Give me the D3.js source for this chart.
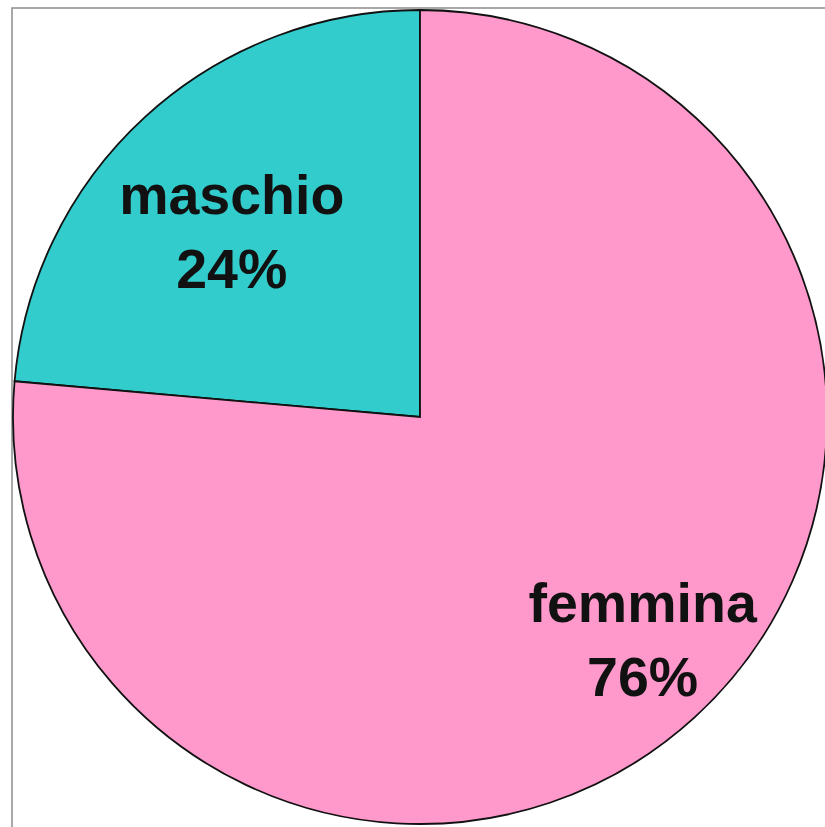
<!DOCTYPE html>
<html><head><meta charset="utf-8">
<script src="https://cdn.jsdelivr.net/npm/d3@7"></script>
<style>html,body{margin:0;padding:0;background:#fff;overflow:hidden}</style>
</head><body>
<svg id="c" width="825" height="827"></svg>
<script>
const categories = ["maschio", "femmina"];
const values = [23.6, 76.4];
const percentLabels = ["24%", "76%"];
const colors = ["#33CCCC", "#FF99CC"];

const svg = d3.select("#c");
const cx = 420, cy = 417, r = 407;

svg.append("rect").attr("x", 12).attr("y", 8).attr("width", 830).attr("height", 840)
  .attr("fill", "#fff").attr("stroke", "#8c8c8c").attr("stroke-width", 1.5);

const data = categories.map((c, i) => ({cat: c, value: values[i], label: percentLabels[i], color: colors[i]}));

const frac0 = values[0] / d3.sum(values);
const pie = d3.pie().value(d => d.value).sort(null)
  .startAngle(-2 * Math.PI * frac0).endAngle(2 * Math.PI - 2 * Math.PI * frac0);
const arcs = pie(data);
const arc = d3.arc().innerRadius(0).outerRadius(r);

const g = svg.append("g").attr("transform", `translate(${cx},${cy})`);
g.selectAll("path").data(arcs).join("path")
  .attr("d", arc).attr("fill", d => d.data.color)
  .attr("stroke", "#111").attr("stroke-width", 1.8).attr("stroke-linejoin", "miter");

const labelR = [0.615, 0.81];
const labelRot = [-0.11, 0];
arcs.forEach((a, i) => {
  const la = d3.arc().innerRadius(r * labelR[i]).outerRadius(r * labelR[i]);
  const mid = {startAngle: a.startAngle + labelRot[i], endAngle: a.endAngle + labelRot[i]};
  const [x, y] = la.centroid(mid);
  const t = g.append("text").attr("x", x).attr("y", y)
    .attr("text-anchor", "middle")
    .attr("font-family", "Liberation Sans, Arial, sans-serif")
    .attr("font-weight", "bold").attr("font-size", 55.5).attr("fill", "#111");
  t.append("tspan").attr("x", x).attr("dy", "-0.69em").text(a.data.cat);
  t.append("tspan").attr("x", x).attr("dy", "1.33em").text(a.data.label);
});
</script>
</body></html>
